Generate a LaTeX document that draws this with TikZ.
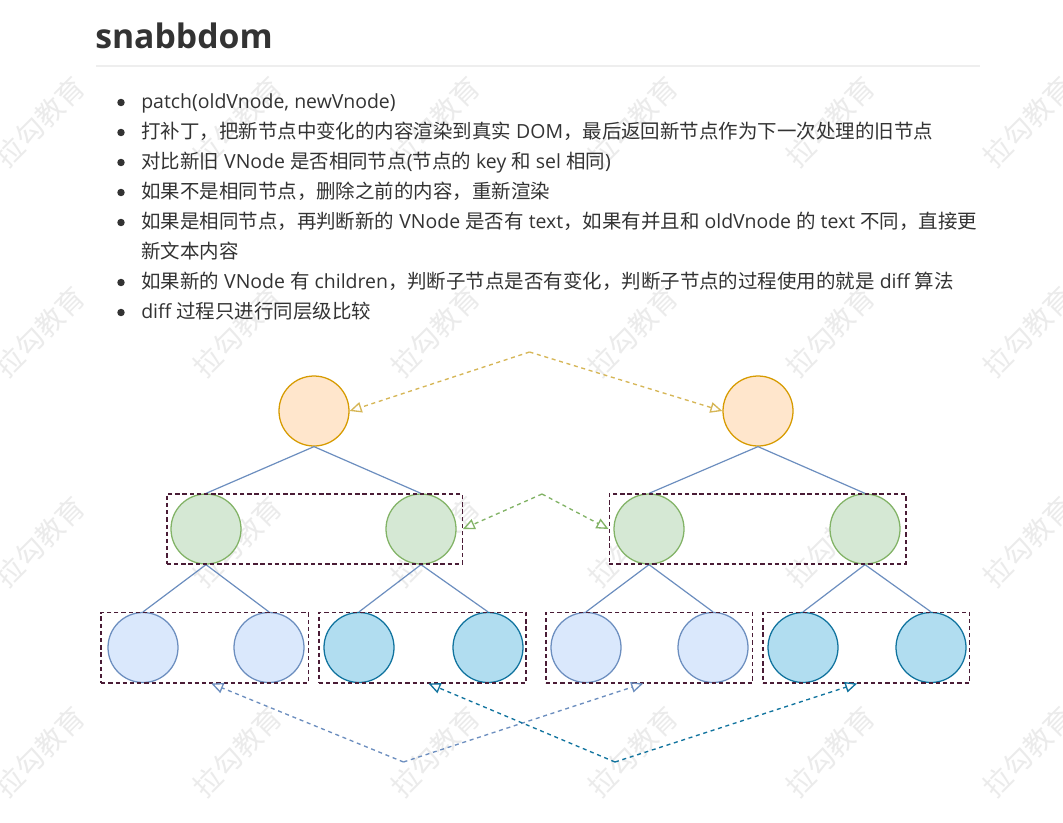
\documentclass[tikz,border=0pt]{standalone}
\usepackage{fontspec}
\setmainfont{Open Sans}
\newfontfamily\cjk{Noto Sans CJK SC}
\usetikzlibrary{arrows.meta,calc}

\definecolor{ink}{HTML}{333333}
\definecolor{rulegray}{HTML}{EEEEEE}
\definecolor{markgray}{HTML}{EBEBEB}
\definecolor{orgfill}{HTML}{FFE6CC}\definecolor{orgline}{HTML}{D79B00}
\definecolor{grnfill}{HTML}{D5E8D4}\definecolor{grnline}{HTML}{82B366}
\definecolor{blufill}{HTML}{DAE8FC}\definecolor{bluline}{HTML}{6C8EBF}
\definecolor{cynfill}{HTML}{B1DDF0}\definecolor{cynline}{HTML}{10739E}
\definecolor{yelline}{HTML}{D6B656}
\definecolor{grpline}{HTML}{4A1C36}

\newcommand\zh[1]{{\cjk #1}}

\tikzset{
  body/.style={anchor=base west, inner sep=0pt, text=ink,
    font=\fontsize{14.6pt}{18pt}\selectfont},
  dot/.style={circle, fill=ink, inner sep=0pt, minimum size=5.6pt},
  vnode/.style={circle, inner sep=0pt, minimum size=52.5pt, line width=0.95pt},
  orgnode/.style={vnode, fill=orgfill, draw=orgline},
  grnnode/.style={vnode, fill=grnfill, draw=grnline},
  blunode/.style={vnode, fill=blufill, draw=bluline},
  cynnode/.style={vnode, fill=cynfill, draw=cynline},
  group/.style={draw=grpline, line width=1pt, dash pattern=on 3.2pt off 2.2pt,
    inner sep=0pt, minimum height=53pt},
  edge/.style={draw=bluline, line width=0.9pt},
  link/.style={line width=1pt, dash pattern=on 3pt off 2.8pt,
    -{Triangle[open, length=9pt, width=8pt]}},
  wmark/.style={rotate=45, text=markgray, inner sep=0pt,
    font=\cjk\fontsize{21pt}{21pt}\selectfont},
}

\begin{document}
\begin{tikzpicture}[x=0.75pt, y=-0.75pt]
\useasboundingbox[fill=white] (0,0) rectangle (1063,822);

% background watermark grid
\foreach \i in {0,...,5}{
  \foreach \j in {0,...,3}{
    \node[wmark] (wm-\i-\j) at ({40+197.6*\i},{122+210*\j}) {拉勾教育};
  }
}

% heading and rule
\node[anchor=base west, inner sep=0pt, text=ink,
  font=\fontsize{25.3pt}{30pt}\selectfont\bfseries] (title) at (95,48) {snabbdom};
\draw[rulegray, line width=1.4pt] (96,65.8) coordinate (rl) -- (980,65.8) coordinate (rr);

% bullet list
\foreach \k/\yy in {1/102.5,2/132.5,3/162.5,4/192.5,5/222.5,6/282.5,7/312.5}{
  \node[dot] (dot\k) at (121,\yy) {};
}
\node[body] (t1) at (141,108) {patch(oldVnode, newVnode)};
\node[body] (t2) at (141,138) {\zh{打补丁，把新节点中变化的内容渲染到真实} DOM\zh{，最后返回新节点作为下一次处理的旧节点}};
\node[body] (t3) at (141,168) {\zh{对比新旧} VNode \zh{是否相同节点}(\zh{节点的} key \zh{和} sel \zh{相同})};
\node[body] (t4) at (141,198) {\zh{如果不是相同节点，删除之前的内容，重新渲染}};
\node[body] (t5) at (141,228) {\zh{如果是相同节点，再判断新的} VNode \zh{是否有} text\zh{，如果有并且和} oldVnode \zh{的} text \zh{不同，直接更}};
\node[body] (t5b) at (141,258) {\zh{新文本内容}};
\node[body] (t6) at (141,288) {\zh{如果新的} VNode \zh{有} children\zh{，判断子节点是否有变化，判断子节点的过程使用的就是} diff \zh{算法}};
\node[body] (t7) at (141,318) {diff \zh{过程只进行同层级比较}};

% old tree
\node[orgnode] (oR) at (314,411) {};
\node[grnnode] (oA) at (206,529) {};
\node[grnnode] (oB) at (421,529) {};
\node[blunode] (oA1) at (143,647.5) {};
\node[blunode] (oA2) at (269,647.5) {};
\node[cynnode] (oB1) at (359,647.5) {};
\node[cynnode] (oB2) at (488,647.5) {};

% new tree
\node[orgnode] (nR) at (758,411) {};
\node[grnnode] (nA) at (649,529) {};
\node[grnnode] (nB) at (865,529) {};
\node[blunode] (nA1) at (586,647.5) {};
\node[blunode] (nA2) at (713,647.5) {};
\node[cynnode] (nB1) at (803,647.5) {};
\node[cynnode] (nB2) at (931,647.5) {};

% tree edges
\foreach \p/\c in {oR/oA,oR/oB,oA/oA1,oA/oA2,oB/oB1,oB/oB2,
                   nR/nA,nR/nB,nA/nA1,nA/nA2,nB/nB1,nB/nB2}{
  \draw[edge] (\p.south) -- (\c.north);
}

% sibling groups
\node[group, minimum width=221.5pt, minimum height=52.5pt] (gO) at (314.5,529) {};
\node[group, minimum width=222.5pt, minimum height=52.5pt] (gN) at (757.5,529) {};
\node[group, minimum width=155.5pt] (gOA) at (204.8,647.5) {};
\node[group, minimum width=155.3pt] (gOB) at (422.5,647.5) {};
\node[group, minimum width=154.9pt] (gNA) at (649.2,647.5) {};
\node[group, minimum width=154.9pt] (gNB) at (866.2,647.5) {};

% same-level comparison links
\coordinate (cR) at (529.5,352);
\draw[link, yelline] (cR) -- (oR.east);
\draw[link, yelline] (cR) -- (nR.west);

\coordinate (cG) at (542,494);
\draw[link, grnline] (cG) -- (gO.east);
\draw[link, grnline] (cG) -- (gN.west);

\coordinate (cA) at (403.5,762);
\draw[link, bluline] (cA) -- ($(gOA.south)+(6.5,0)$);
\draw[link, bluline] (cA) -- ($(gNA.south)+(-6,0)$);

\coordinate (cB) at (615,762);
\draw[link, cynline] (cB) -- ($(gOB.south)+(6,0)$);
\draw[link, cynline] (cB) -- ($(gNB.south)+(-9,0)$);
\end{tikzpicture}
\end{document}
